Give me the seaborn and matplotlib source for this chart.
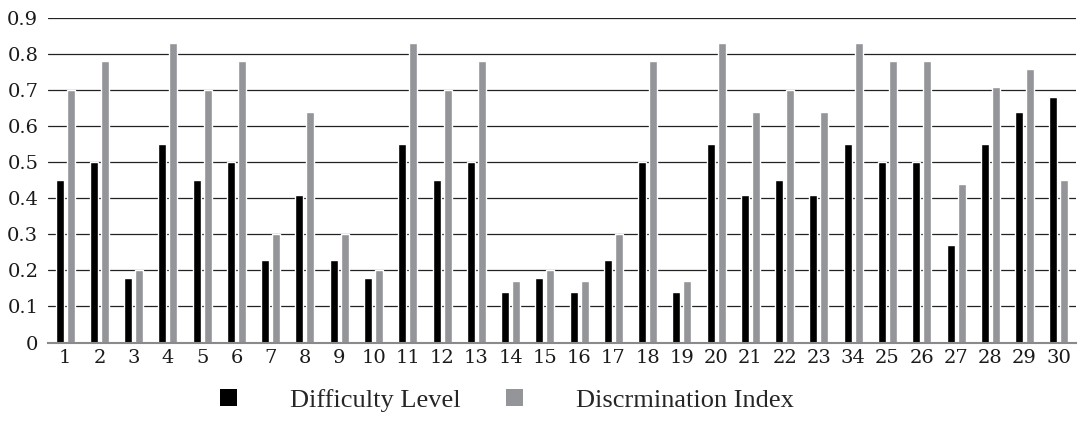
import matplotlib
matplotlib.use("Agg")
import matplotlib.pyplot as plt
import seaborn as sns
import pandas as pd
from matplotlib.patches import Patch

items = ["1", "2", "3", "4", "5", "6", "7", "8", "9", "10",
         "11", "12", "13", "14", "15", "16", "17", "18", "19", "20",
         "21", "22", "23", "34", "25", "26", "27", "28", "29", "30"]
difficulty = [0.45, 0.50, 0.18, 0.55, 0.45, 0.50, 0.23, 0.41, 0.23, 0.18,
              0.55, 0.45, 0.50, 0.14, 0.18, 0.14, 0.23, 0.50, 0.14, 0.55,
              0.41, 0.45, 0.41, 0.55, 0.50, 0.50, 0.27, 0.55, 0.64, 0.68]
discrimination = [0.70, 0.78, 0.20, 0.83, 0.70, 0.78, 0.30, 0.64, 0.30, 0.20,
                  0.83, 0.70, 0.78, 0.17, 0.20, 0.17, 0.30, 0.78, 0.17, 0.83,
                  0.64, 0.70, 0.64, 0.83, 0.78, 0.78, 0.44, 0.71, 0.76, 0.45]
series_names = ["Difficulty Level", "Discrmination Index"]
colors = ["#000000", "#939598"]
yticks = [0, 0.1, 0.2, 0.3, 0.4, 0.5, 0.6, 0.7, 0.8, 0.9]
ytick_labels = ["0", "0.1", "0.2", "0.3", "0.4", "0.5", "0.6", "0.7", "0.8", "0.9"]

df = pd.DataFrame({
    "Item": items * 2,
    "Value": difficulty + discrimination,
    "Series": [series_names[0]] * len(items) + [series_names[1]] * len(items),
})

sns.set_theme(style="white")
plt.rcParams["font.family"] = ["DejaVu Serif"]

fig = plt.figure(figsize=(10.83, 4.33), dpi=100)
ax = fig.add_axes([0.0443, 0.209, 0.9492, 0.749])

sns.barplot(data=df, x="Item", y="Value", hue="Series", order=items,
            hue_order=series_names, palette=colors, width=0.64, gap=0.27,
            saturation=1, legend=False, ax=ax, zorder=3)

ax.set_ylim(0, 0.9)
ax.set_xlim(-0.5, len(items) - 0.5)
ax.set_yticks(yticks)
ax.set_yticklabels(ytick_labels)
ax.set_xlabel("")
ax.set_ylabel("")
ax.grid(False)
for y in yticks[1:]:
    ax.axhline(y, color="#222222", lw=0.9, zorder=1)

for s in ["top", "right", "left"]:
    ax.spines[s].set_visible(False)
ax.spines["bottom"].set_color("#8a8a8a")
ax.spines["bottom"].set_linewidth(1.5)
ax.spines["bottom"].set_zorder(4)

ax.tick_params(axis="both", length=0, labelsize=14, colors="#1a1a1a")
ax.tick_params(axis="x", pad=5)
ax.tick_params(axis="y", pad=7)

handles = [Patch(facecolor=c, edgecolor="none") for c in colors]
fig.legend(handles, series_names, loc="center", bbox_to_anchor=(0.468, 0.076),
           ncol=2, frameon=False, prop={"family": "Liberation Serif", "size": 19},
           handlelength=0.65, handleheight=0.65, handletextpad=2.0,
           columnspacing=1.7)

fig.savefig("out.png", dpi=100)
